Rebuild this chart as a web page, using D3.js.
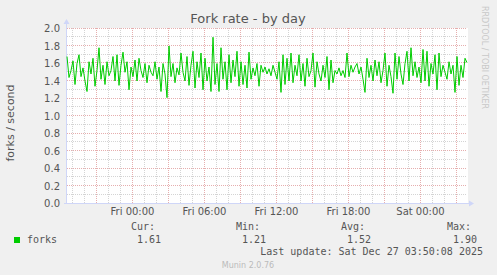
<!DOCTYPE html>
<html>
<head>
<meta charset="utf-8">
<script src="https://cdnjs.cloudflare.com/ajax/libs/d3/7.8.5/d3.min.js"></script>
<style>
  html, body { margin: 0; padding: 0; background: #F0F0F0; }
  svg { display: block; }
</style>
</head>
<body>
<div id="chart"></div>
<script>
// forks per second, one sample every 10 minutes
let forks = [
    1.68,1.44,1.52,1.63,1.36,1.60,1.70,1.45,1.55,1.40,1.28,1.62,1.48,1.66,1.34,1.52,1.78,1.42,1.58,1.36,1.62,1.46,1.52,1.68,1.40,1.70,1.35,1.58,1.73,
    1.50,1.62,1.30,1.56,1.45,1.64,1.40,1.66,1.52,1.44,1.60,1.38,1.58,1.50,1.46,1.62,1.42,1.56,1.28,1.60,1.48,1.21,1.80,1.45,1.60,1.38,1.55,1.47,1.72,
    1.50,1.40,1.68,1.35,1.58,1.74,1.32,1.62,1.44,1.72,1.30,1.66,1.40,1.56,1.28,1.90,1.36,1.60,1.28,1.78,1.42,1.62,1.30,1.70,1.38,1.64,1.45,1.74,1.34,
    1.62,1.36,1.58,1.32,1.73,1.42,1.55,1.46,1.60,1.34,1.58,1.50,1.56,1.48,1.54,1.46,1.58,1.50,1.42,1.62,1.27,1.70,1.36,1.66,1.40,1.72,1.38,1.58,1.46,
    1.70,1.40,1.60,1.34,1.66,1.45,1.52,1.72,1.33,1.62,1.48,1.40,1.58,1.44,1.68,1.30,1.64,1.38,1.52,1.48,1.55,1.46,1.52,1.44,1.72,1.45,1.58,1.50,1.56,
    1.60,1.48,1.56,1.42,1.27,1.66,1.44,1.58,1.40,1.64,1.46,1.62,1.38,1.52,1.72,1.34,1.58,1.45,1.26,1.72,1.42,1.68,1.48,1.36,1.60,1.74,1.40,1.78,1.46,
    1.62,1.44,1.56,1.38,1.76,1.40,1.74,1.34,1.60,1.48,1.70,1.30,1.72,1.45,1.58,1.50,1.42,1.62,1.48,1.58,1.27,1.68,1.35,1.58,1.44,1.66,1.61
];
let yTicks = [0.0, 0.2, 0.4, 0.6, 0.8, 1.0, 1.2, 1.4, 1.6, 1.8, 2.0];
let legendHeads = ["Cur:", "Min:", "Avg:", "Max:"];
let legendValues = ["1.61", "1.21", "1.52", "1.90"];
let seriesName = "forks";
let lastUpdate = "Last update: Sat Dec 27 03:50:08 2025";

let WIDTH = 497, HEIGHT = 275;
let LEFT = 67, RIGHT = 467, TOP = 28, BOTTOM = 203;
let STEP = 600 * 1000;
let timeStart = new Date(new Date(2025, 11, 26, 0, 0, 0).getTime() - 19500 * 1000);
let timeEnd = new Date(timeStart.getTime() + 400 * 300 * 1000);

let FONT = "'DejaVu Sans', sans-serif";
let MONO = "'DejaVu Sans Mono', monospace";
let TEXT = "#555";
let AXIS = "#CFD6F8";
let MGRID = "#E6AEAE";
let GRID = "#D4D4D4";

let svg = d3.select("#chart").append("svg")
    .attr("width", WIDTH)
    .attr("height", HEIGHT);

svg.append("rect").attr("width", WIDTH).attr("height", HEIGHT).attr("fill", "#F0F0F0");

let xScale = d3.scaleTime().domain([timeStart, timeEnd]).range([LEFT, RIGHT]);
let yScale = d3.scaleLinear().domain([0, 2]).range([BOTTOM + 0.5, TOP + 0.5]);

svg.append("rect")
    .attr("x", LEFT).attr("y", TOP)
    .attr("width", RIGHT - LEFT + 1).attr("height", BOTTOM - TOP)
    .attr("fill", "#FFFFFF");

// title
svg.append("text")
    .attr("x", 248).attr("y", 23)
    .attr("text-anchor", "middle")
    .style("font-family", FONT).style("font-size", "13px")
    .attr("fill", TEXT)
    .text("Fork rate - by day");

// vertical watermark
svg.append("text")
    .attr("transform", "translate(482,6) rotate(90)")
    .style("font-family", FONT).style("font-size", "8px")
    .attr("fill", "#C8C8C8")
    .text("RRDTOOL / TOBI OETIKER");

// grids
let grid = svg.append("g");
let minorY = d3.range(1, 20).map(function(d){ return d / 10; });
grid.selectAll(".hminor").data(minorY).enter().append("line")
    .attr("x1", LEFT).attr("x2", RIGHT)
    .attr("y1", function(d){ return Math.round(yScale(d)) - 0.5; })
    .attr("y2", function(d){ return Math.round(yScale(d)) - 0.5; })
    .attr("stroke", function(d, i){ return (i % 2 == 1) ? MGRID : GRID; })
    .attr("stroke-dasharray", "1,1");

let hours = d3.timeHour.every(1).range(timeStart, timeEnd);
grid.selectAll(".vminor").data(hours).enter().append("line")
    .attr("x1", function(d){ return Math.round(xScale(d)) + 0.5; })
    .attr("x2", function(d){ return Math.round(xScale(d)) + 0.5; })
    .attr("y1", TOP).attr("y2", BOTTOM)
    .attr("stroke", function(d){ return d.getHours() % 3 == 0 ? MGRID : GRID; })
    .attr("stroke-dasharray", "1,1");

// top major line at 2.0
grid.append("line")
    .attr("x1", LEFT).attr("x2", RIGHT)
    .attr("y1", Math.round(yScale(2)) - 0.5).attr("y2", Math.round(yScale(2)) - 0.5)
    .attr("stroke", MGRID).attr("stroke-dasharray", "1,1");

// axes
let yAxis = d3.axisLeft(yScale)
    .tickValues(yTicks)
    .tickSize(0)
    .tickPadding(7)
    .tickFormat(d3.format(".1f"));
let yg = svg.append("g")
    .attr("transform", "translate(" + LEFT + ",0)")
    .call(yAxis);
yg.select(".domain").remove();
yg.selectAll("text")
    .style("font-family", FONT).style("font-size", "10px")
    .attr("fill", TEXT);

let xAxis = d3.axisBottom(xScale)
    .ticks(d3.timeHour.every(6))
    .tickSize(0)
    .tickPadding(5)
    .tickFormat(d3.timeFormat("%a %H:%M"));
let xg = svg.append("g")
    .attr("transform", "translate(0," + BOTTOM + ")")
    .call(xAxis);
xg.select(".domain").remove();
xg.selectAll("text")
    .style("font-family", FONT).style("font-size", "10px")
    .attr("fill", TEXT);

svg.append("line")
    .attr("x1", LEFT - 0.5).attr("x2", LEFT - 0.5)
    .attr("y1", 22).attr("y2", BOTTOM + 1)
    .attr("stroke", AXIS);
svg.append("line")
    .attr("x1", LEFT - 3).attr("x2", RIGHT + 3)
    .attr("y1", BOTTOM + 0.5).attr("y2", BOTTOM + 0.5)
    .attr("stroke", AXIS);
svg.append("path")
    .attr("d", "M" + (LEFT - 3.5) + ",24 L" + (LEFT - 0.5) + ",19 L" + (LEFT + 2.5) + ",24 Z")
    .attr("fill", AXIS);
svg.append("path")
    .attr("d", "M" + (RIGHT + 2) + "," + (BOTTOM - 2.5) + " L" + (RIGHT + 7) + "," + (BOTTOM + 0.5) + " L" + (RIGHT + 2) + "," + (BOTTOM + 3.5) + " Z")
    .attr("fill", AXIS);

// y label
svg.append("text")
    .attr("transform", "translate(14,123) rotate(-90)")
    .attr("text-anchor", "middle")
    .style("font-family", FONT).style("font-size", "11px")
    .attr("fill", TEXT)
    .text("forks / second");

// data line
let line = d3.line()
    .x(function(d, i){ return xScale(new Date(timeStart.getTime() + i * STEP)); })
    .y(function(d){ return yScale(d); });

svg.append("path")
    .datum(forks)
    .attr("d", line)
    .attr("fill", "none")
    .attr("stroke", "#00CC00")
    .attr("stroke-width", 1);

// legend
let legendX = [155, 260, 365, 471];
let valueX = [161, 266, 371, 477];
svg.selectAll(".lhead").data(legendHeads).enter().append("text")
    .attr("x", function(d, i){ return legendX[i]; })
    .attr("y", 230)
    .attr("text-anchor", "end")
    .style("font-family", MONO).style("font-size", "10px")
    .attr("fill", TEXT)
    .text(function(d){ return d; });
svg.selectAll(".lval").data(legendValues).enter().append("text")
    .attr("x", function(d, i){ return valueX[i]; })
    .attr("y", 243)
    .attr("text-anchor", "end")
    .style("font-family", MONO).style("font-size", "10px")
    .attr("fill", TEXT)
    .text(function(d){ return d; });

svg.append("rect")
    .attr("x", 14).attr("y", 237).attr("width", 6).attr("height", 6)
    .attr("fill", "#00CC00");
svg.append("text")
    .attr("x", 27).attr("y", 243)
    .style("font-family", MONO).style("font-size", "10px")
    .attr("fill", TEXT)
    .text(seriesName);

svg.append("text")
    .attr("x", 483).attr("y", 255)
    .attr("text-anchor", "end")
    .style("font-family", MONO).style("font-size", "10px")
    .attr("fill", TEXT)
    .text(lastUpdate);

svg.append("text")
    .attr("x", 248).attr("y", 268)
    .attr("text-anchor", "middle")
    .style("font-family", FONT).style("font-size", "8px")
    .attr("fill", "#BBBBBB")
    .text("Munin 2.0.76");
</script>
</body>
</html>
